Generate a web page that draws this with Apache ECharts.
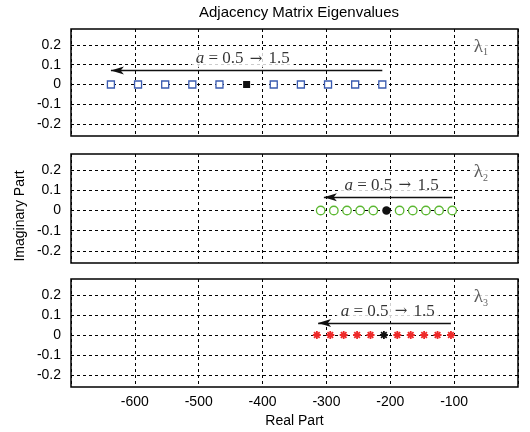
<!DOCTYPE html>
<html>
<head>
<meta charset="utf-8">
<script src="https://cdn.jsdelivr.net/npm/echarts@6/dist/echarts.min.js"></script>
<style>
  html, body { margin: 0; padding: 0; background: #fff; }
  #chart { width: 530px; height: 432px; }
</style>
</head>
<body>
<div id="chart"></div>
<script>
// Eigenvalues of the adjacency matrix as the parameter a sweeps 0.5 -> 1.5 (step 0.1).
// The a = 1 value of each eigenvalue is drawn separately in black.
const lambda1Sweep = [-212.5, -255, -297.5, -340, -382.5, -467.5, -510, -552.5, -595, -637.5];
const lambda1Nominal = [-425];
const lambda2Sweep = [-103, -123.6, -144.2, -164.8, -185.4, -226.6, -247.2, -267.8, -288.4, -309];
const lambda2Nominal = [-206];
const lambda3Sweep = [-105, -126, -147, -168, -189, -231, -252, -273, -294, -315];
const lambda3Nominal = [-210];

const panelNames = ['1', '2', '3'];
const yTickValues = [0.2, 0.1, 0, -0.1, -0.2];

// direction-of-sweep arrows: [start, end, height]
const arrow1 = [-212.5, -637.5, 0.07];
const arrow2 = [-103, -304, 0.066];
const arrow3 = [-105, -313, 0.06];
// centre of the sweep caption in each panel
const caption1 = [-431, 0.13];
const caption2 = [-198, 0.124];
const caption3 = [-204, 0.118];
// eigenvalue name tag in each panel
const tagPos = [-58, 0.19];

const sweeps = [lambda1Sweep, lambda2Sweep, lambda3Sweep];
const nominals = [lambda1Nominal, lambda2Nominal, lambda3Nominal];
const arrows = [arrow1, arrow2, arrow3];
const captions = [caption1, caption2, caption3];

const asteriskPath = 'path://M50,0 L50,100 M0,50 L100,50 M15,15 L85,85 M15,85 L85,15';
const markerStyles = [
  { symbol: 'rect', size: 7, open: { color: '#fff', borderColor: '#3a5bb0', borderWidth: 1.3 }, filled: { color: '#111' } },
  { symbol: 'circle', size: 8.5, open: { color: '#fff', borderColor: '#5cb832', borderWidth: 1.3 }, filled: { color: '#111' } },
  { symbol: asteriskPath, size: 8, open: { color: 'none', borderColor: '#ee2a2a', borderWidth: 1.8 }, filled: { color: 'none', borderColor: '#111', borderWidth: 1.8 } }
];

const serif = '"Liberation Serif", "DejaVu Serif", serif';
const sans = '"Liberation Sans", Arial, sans-serif';

const gridTops = [29, 154, 279];
const gridHeights = [107, 109, 108];

const grids = [], xAxes = [], yAxes = [], series = [];
const dashed = { color: '#000', width: 1, type: [3, 3] };

for (let p = 0; p < 3; p++) {
  grids.push({
    left: 71, right: 12, top: gridTops[p], height: gridHeights[p],
    show: true, borderColor: '#000', borderWidth: 1.5, backgroundColor: '#fff'
  });
  xAxes.push({
    type: 'value', gridIndex: p, min: -700, max: 0, interval: 100,
    axisLine: { show: false }, axisTick: { show: false },
    splitLine: { show: true, lineStyle: dashed },
    axisLabel: {
      show: p === 2, showMinLabel: false, showMaxLabel: false,
      color: '#000', fontFamily: sans, fontSize: 14, margin: 8
    },
    name: p === 2 ? 'Real Part' : '', nameLocation: 'middle', nameGap: 27,
    nameTextStyle: { color: '#000', fontFamily: sans, fontSize: 14 }
  });
  yAxes.push({
    type: 'value', gridIndex: p, min: -0.26, max: 0.28,
    axisLine: { show: false }, axisTick: { show: false },
    splitLine: { show: false },
    axisLabel: {
      customValues: yTickValues,
      color: '#000', fontFamily: sans, fontSize: 14, margin: 10
    }
  });

  // dashed horizontal grid lines at the labelled values
  series.push({
    type: 'line', xAxisIndex: p, yAxisIndex: p, data: [], silent: true, z: 1,
    markLine: {
      silent: true, symbol: 'none', label: { show: false },
      lineStyle: dashed,
      data: yTickValues.map(v => ({ yAxis: v }))
    }
  });

  const m = markerStyles[p];
  // eigenvalue sweep (open markers)
  series.push({
    type: 'scatter', xAxisIndex: p, yAxisIndex: p, z: 5,
    symbol: m.symbol, symbolSize: m.size,
    itemStyle: Object.assign({ opacity: 1 }, m.open),
    data: sweeps[p].map(v => [v, 0])
  });
  // a = 1 (filled black marker)
  series.push({
    type: 'scatter', xAxisIndex: p, yAxisIndex: p, z: 6,
    symbol: m.symbol, symbolSize: m.size,
    itemStyle: Object.assign({ opacity: 1 }, m.filled),
    data: nominals[p].map(v => [v, 0])
  });
  // sweep direction arrow
  const a = arrows[p];
  series.push({
    type: 'line', xAxisIndex: p, yAxisIndex: p, data: [], silent: true, z: 4,
    markLine: {
      silent: true, symbol: ['none', 'arrow'], symbolSize: [6, 13],
      label: { show: false },
      lineStyle: { color: '#111', width: 1.3, type: 'solid' },
      data: [[{ coord: [a[0], a[2]] }, { coord: [a[1], a[2]] }]]
    }
  });
  // sweep caption and eigenvalue tag
  series.push({
    type: 'scatter', xAxisIndex: p, yAxisIndex: p, z: 7, silent: true,
    symbolSize: 0,
    data: [captions[p]],
    label: {
      show: true, position: 'inside',
      formatter: () => '{i|a}{r| = 0.5 }{ar|→}{r| 1.5}',
      backgroundColor: '#fff', padding: [0, 4, 0, 4],
      rich: {
        i: { fontFamily: serif, fontStyle: 'italic', fontSize: 17, color: '#000' },
        r: { fontFamily: serif, fontSize: 17, color: '#000' },
        ar: { fontFamily: '"DejaVu Serif", serif', fontSize: 15, color: '#000', padding: [0, 2, 0, 2] }
      }
    }
  });
  series.push({
    type: 'scatter', xAxisIndex: p, yAxisIndex: p, z: 7, silent: true,
    symbolSize: 0,
    data: [tagPos],
    label: {
      show: true, position: 'inside',
      formatter: () => '{l|λ}{s|' + panelNames[p] + '}',
      backgroundColor: '#fff', padding: [0, 2, 0, 2],
      rich: {
        l: { fontFamily: serif, fontSize: 19, color: '#333' },
        s: { fontFamily: serif, fontSize: 10, color: '#333', padding: [12, 0, 0, 0] }
      }
    }
  });
}

const chart = echarts.init(document.getElementById('chart'), null, { renderer: 'canvas' });
chart.setOption({
  animation: false,
  backgroundColor: '#fff',
  title: {
    text: 'Adjacency Matrix Eigenvalues', left: 294, textAlign: 'center', top: 0,
    textStyle: { color: '#000', fontFamily: sans, fontSize: 15, fontWeight: 'normal' }
  },
  graphic: [{
    type: 'text', left: 13, top: 'middle', rotation: Math.PI / 2,
    style: { text: 'Imaginary Part', fill: '#000', font: '14px ' + sans }
  }],
  grid: grids,
  xAxis: xAxes,
  yAxis: yAxes,
  series: series
});
</script>
</body>
</html>
